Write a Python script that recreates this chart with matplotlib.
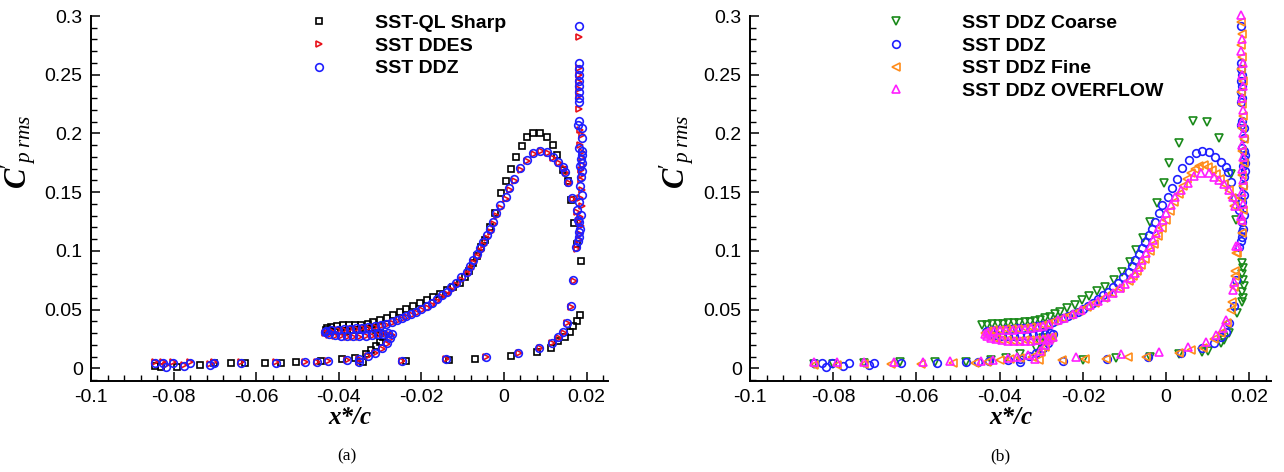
import numpy as np
import matplotlib
matplotlib.use("Agg")
import matplotlib.pyplot as plt
from matplotlib.ticker import MultipleLocator, FuncFormatter

plt.rcParams['font.family'] = ['Liberation Sans', 'DejaVu Sans']
plt.rcParams['mathtext.fontset'] = 'custom'
plt.rcParams['mathtext.rm'] = 'Liberation Serif'
plt.rcParams['mathtext.it'] = 'Liberation Serif:italic'
plt.rcParams['mathtext.bf'] = 'Liberation Serif:italic:bold'

# ---- data: (x*/c, Cp'rms) ----
sharp_xy = np.array([
    (-0.0846, 0.0020), (-0.0830, 0.0014), (-0.0792, 0.0014), (-0.0737, 0.0028), (-0.0701, 0.0043),
    (-0.0660, 0.0043), (-0.0628, 0.0043), (-0.0579, 0.0048), (-0.0539, 0.0048), (-0.0504, 0.0056),
    (-0.0442, 0.0062), (-0.0393, 0.0077), (-0.0361, 0.0085), (-0.0341, 0.0056),
    (-0.0333, 0.0122), (-0.0321, 0.0156), (-0.0310, 0.0190), (-0.0301, 0.0226), (-0.0294, 0.0265),
    (-0.0300, 0.0300), (-0.0310, 0.0330), (-0.0320, 0.0340), (-0.0335, 0.0335), (-0.0350, 0.0330),
    (-0.0365, 0.0325), (-0.0380, 0.0320), (-0.0395, 0.0318), (-0.0410, 0.0318), (-0.0422, 0.0320),
    (-0.0431, 0.0330), (-0.0428, 0.0345), (-0.0418, 0.0355), (-0.0405, 0.0362), (-0.0390, 0.0366),
    (-0.0375, 0.0368), (-0.0360, 0.0370), (-0.0345, 0.0373), (-0.0330, 0.0378), (-0.0317, 0.0391),
    (-0.0300, 0.0411), (-0.0284, 0.0431), (-0.0268, 0.0454), (-0.0252, 0.0477), (-0.0236, 0.0502),
    (-0.0220, 0.0530), (-0.0204, 0.0558), (-0.0187, 0.0581), (-0.0171, 0.0609), (-0.0155, 0.0632),
    (-0.0139, 0.0666), (-0.0123, 0.0694), (-0.0107, 0.0729), (-0.0095, 0.0775), (-0.0085, 0.0830),
    (-0.0075, 0.0895), (-0.0065, 0.0960), (-0.0055, 0.1030), (-0.0046, 0.1092), (-0.0034, 0.1200),
    (-0.0022, 0.1324), (-0.0006, 0.1494), (0.0005, 0.1594), (0.0016, 0.1694), (0.0029, 0.1796),
    (0.0043, 0.1892), (0.0057, 0.1966), (0.0071, 0.2000), (0.0087, 0.2005), (0.0104, 0.1966),
    (0.0118, 0.1900), (0.0129, 0.1815), (0.0144, 0.1688), (0.0156, 0.1594), (0.0162, 0.1432),
    (0.0170, 0.1239), (0.0178, 0.1058), (0.0186, 0.0913),
    (0.0184, 0.0454), (0.0176, 0.0405), (0.0168, 0.0363), (0.0160, 0.0312), (0.0148, 0.0269),
    (0.0132, 0.0232), (0.0113, 0.0170), (0.0079, 0.0136), (0.0016, 0.0105), (-0.0069, 0.0082),
    (-0.0133, 0.0073), (-0.0238, 0.0065),
])

ddz_xy = np.array([
    (-0.0846, 0.0043), (-0.0826, 0.0043), (-0.0818, 0.0015), (-0.0802, 0.0043), (-0.0776, 0.0020),
    (-0.0761, 0.0043), (-0.0713, 0.0030), (-0.0703, 0.0043), (-0.0636, 0.0043), (-0.0551, 0.0045),
    (-0.0482, 0.0051), (-0.0453, 0.0051), (-0.0426, 0.0060), (-0.0381, 0.0071), (-0.0351, 0.0079),
    (-0.0351, 0.0051), (-0.0329, 0.0105), (-0.0313, 0.0133), (-0.0296, 0.0170), (-0.0283, 0.0213),
    (-0.0276, 0.0255),
    (-0.0272, 0.0290), (-0.0280, 0.0300), (-0.0292, 0.0295), (-0.0305, 0.0288), (-0.0320, 0.0282),
    (-0.0335, 0.0278), (-0.0350, 0.0275), (-0.0365, 0.0274), (-0.0380, 0.0275), (-0.0395, 0.0278),
    (-0.0410, 0.0283), (-0.0424, 0.0292), (-0.0433, 0.0305), (-0.0430, 0.0318), (-0.0418, 0.0325),
    (-0.0403, 0.0330), (-0.0388, 0.0333), (-0.0373, 0.0336), (-0.0358, 0.0340), (-0.0343, 0.0345),
    (-0.0328, 0.0350), (-0.0313, 0.0357), (-0.0298, 0.0366), (-0.0285, 0.0378), (-0.0272, 0.0395),
    (-0.0260, 0.0411), (-0.0248, 0.0425), (-0.0236, 0.0445), (-0.0224, 0.0462), (-0.0212, 0.0482),
    (-0.0200, 0.0507), (-0.0187, 0.0530), (-0.0175, 0.0558), (-0.0163, 0.0590), (-0.0151, 0.0624),
    (-0.0139, 0.0652), (-0.0127, 0.0689), (-0.0115, 0.0729), (-0.0103, 0.0774), (-0.0090, 0.0822),
    (-0.0082, 0.0871), (-0.0074, 0.0922), (-0.0066, 0.0973), (-0.0058, 0.1021), (-0.0050, 0.1077),
    (-0.0042, 0.1134), (-0.0034, 0.1183), (-0.0026, 0.1248), (-0.0018, 0.1320), (-0.0010, 0.1390),
    (0.0004, 0.1460), (0.0013, 0.1532), (0.0025, 0.1608), (0.0039, 0.1702), (0.0055, 0.1773),
    (0.0071, 0.1830), (0.0087, 0.1852), (0.0104, 0.1838), (0.0118, 0.1801), (0.0132, 0.1758),
    (0.0144, 0.1716), (0.0148, 0.1673), (0.0156, 0.1588), (0.0166, 0.1452), (0.0176, 0.1347),
    (0.0180, 0.1262),
    (0.0181, 0.2916), (0.0181, 0.2596), (0.0181, 0.2550), (0.0182, 0.2500), (0.0181, 0.2450),
    (0.0182, 0.2400), (0.0181, 0.2350), (0.0182, 0.2300), (0.0181, 0.2270), (0.0183, 0.2110),
    (0.0179, 0.2070), (0.0188, 0.2050), (0.0188, 0.1960), (0.0183, 0.1880), (0.0188, 0.1850),
    (0.0190, 0.1820), (0.0186, 0.1780), (0.0190, 0.1750), (0.0184, 0.1720), (0.0189, 0.1680),
    (0.0186, 0.1630), (0.0185, 0.1550), (0.0188, 0.1480), (0.0183, 0.1420), (0.0187, 0.1305),
    (0.0183, 0.1245), (0.0185, 0.1190), (0.0183, 0.1160), (0.0183, 0.1115), (0.0180, 0.1080),
    (0.0175, 0.1035), (0.0168, 0.0751), (0.0162, 0.0533), (0.0152, 0.0388), (0.0144, 0.0306),
    (0.0132, 0.0264), (0.0116, 0.0218), (0.0086, 0.0175), (0.0035, 0.0133), (-0.0044, 0.0099),
    (-0.0141, 0.0079), (-0.0248, 0.0062),
])

ddes_xy = np.array([
    (-0.0846, 0.0050), (-0.0826, 0.0050), (-0.0818, 0.0025), (-0.0802, 0.0050), (-0.0776, 0.0028),
    (-0.0761, 0.0050), (-0.0713, 0.0038), (-0.0703, 0.0050), (-0.0636, 0.0050), (-0.0551, 0.0050),
    (-0.0482, 0.0055), (-0.0453, 0.0055), (-0.0426, 0.0062), (-0.0381, 0.0072), (-0.0351, 0.0080),
    (-0.0351, 0.0053), (-0.0329, 0.0102), (-0.0313, 0.0130), (-0.0296, 0.0166), (-0.0283, 0.0208),
    (-0.0276, 0.0250),
    (-0.0272, 0.0285), (-0.0280, 0.0295), (-0.0292, 0.0290), (-0.0305, 0.0283), (-0.0320, 0.0277),
    (-0.0335, 0.0273), (-0.0350, 0.0270), (-0.0365, 0.0269), (-0.0380, 0.0270), (-0.0395, 0.0273),
    (-0.0410, 0.0278), (-0.0424, 0.0287), (-0.0433, 0.0300), (-0.0430, 0.0313), (-0.0418, 0.0320),
    (-0.0403, 0.0325), (-0.0388, 0.0328), (-0.0373, 0.0331), (-0.0358, 0.0335), (-0.0343, 0.0340),
    (-0.0328, 0.0345), (-0.0313, 0.0352), (-0.0298, 0.0360), (-0.0285, 0.0372), (-0.0272, 0.0388),
    (-0.0258, 0.0402), (-0.0246, 0.0416), (-0.0234, 0.0434), (-0.0222, 0.0451), (-0.0210, 0.0470),
    (-0.0198, 0.0493), (-0.0185, 0.0516), (-0.0173, 0.0543), (-0.0161, 0.0573), (-0.0149, 0.0605),
    (-0.0137, 0.0634), (-0.0125, 0.0670), (-0.0113, 0.0708), (-0.0101, 0.0752), (-0.0088, 0.0800),
    (-0.0080, 0.0848), (-0.0072, 0.0898), (-0.0064, 0.0950), (-0.0056, 0.0998), (-0.0048, 0.1054),
    (-0.0040, 0.1110), (-0.0032, 0.1160), (-0.0024, 0.1225), (-0.0016, 0.1298), (-0.0008, 0.1368),
    (0.0006, 0.1440), (0.0015, 0.1515), (0.0027, 0.1594), (0.0041, 0.1690), (0.0057, 0.1765),
    (0.0073, 0.1824), (0.0089, 0.1848), (0.0106, 0.1833), (0.0120, 0.1795), (0.0134, 0.1750),
    (0.0146, 0.1706), (0.0150, 0.1662), (0.0158, 0.1576), (0.0168, 0.1440), (0.0178, 0.1335),
    (0.0182, 0.1250),
    (0.0183, 0.2820), (0.0182, 0.2560), (0.0183, 0.2500), (0.0182, 0.2440), (0.0183, 0.2380),
    (0.0182, 0.2320), (0.0183, 0.2210), (0.0184, 0.2030), (0.0189, 0.1990), (0.0185, 0.1900),
    (0.0190, 0.1840), (0.0188, 0.1790), (0.0191, 0.1730), (0.0186, 0.1690), (0.0190, 0.1650),
    (0.0187, 0.1600), (0.0189, 0.1520), (0.0185, 0.1450), (0.0189, 0.1380), (0.0185, 0.1290),
    (0.0186, 0.1210), (0.0184, 0.1140), (0.0182, 0.1095),
    (0.0176, 0.1020), (0.0169, 0.0740), (0.0163, 0.0525), (0.0153, 0.0382), (0.0145, 0.0300),
    (0.0133, 0.0258), (0.0117, 0.0212), (0.0087, 0.0170), (0.0036, 0.0130), (-0.0043, 0.0097),
    (-0.0140, 0.0078), (-0.0247, 0.0062),
])

coarse_xy = np.array([
    (-0.0846, 0.0040), (-0.0800, 0.0040), (-0.0725, 0.0045), (-0.0640, 0.0050), (-0.0555, 0.0050),
    (-0.0480, 0.0055), (-0.0420, 0.0070), (-0.0385, 0.0090), (-0.0352, 0.0122), (-0.0312, 0.0170),
    (-0.0304, 0.0213), (-0.0296, 0.0255), (-0.0290, 0.0300),
    (-0.0442, 0.0365), (-0.0430, 0.0372), (-0.0418, 0.0376), (-0.0405, 0.0379), (-0.0392, 0.0381),
    (-0.0379, 0.0383), (-0.0366, 0.0385), (-0.0353, 0.0388), (-0.0340, 0.0391), (-0.0327, 0.0395),
    (-0.0314, 0.0402), (-0.0302, 0.0412),
    (-0.0292, 0.0426), (-0.0280, 0.0439), (-0.0268, 0.0460), (-0.0254, 0.0482), (-0.0239, 0.0510),
    (-0.0220, 0.0539), (-0.0202, 0.0581), (-0.0186, 0.0615), (-0.0167, 0.0660), (-0.0146, 0.0694),
    (-0.0126, 0.0751), (-0.0107, 0.0822), (-0.0088, 0.0904), (-0.0073, 0.1004), (-0.0056, 0.1106),
    (-0.0040, 0.1248), (-0.0022, 0.1404), (-0.0006, 0.1580), (0.0008, 0.1750), (0.0032, 0.1920),
    (0.0064, 0.2107), (0.0097, 0.2097), (0.0126, 0.1965), (0.0156, 0.1657), (0.0168, 0.1260),
    (0.0183, 0.0900), (0.0185, 0.0850), (0.0182, 0.0800), (0.0184, 0.0750), (0.0186, 0.0700),
    (0.0183, 0.0650), (0.0184, 0.0596), (0.0182, 0.0567), (0.0170, 0.0468), (0.0152, 0.0298),
    (0.0140, 0.0241), (0.0132, 0.0213), (0.0100, 0.0150), (0.0086, 0.0141), (0.0030, 0.0120),
    (-0.0040, 0.0100), (-0.0120, 0.0085), (-0.0200, 0.0070),
])

fine_xy = np.array([
    (-0.0846, 0.0030), (-0.0790, 0.0030), (-0.0725, 0.0035), (-0.0660, 0.0035), (-0.0590, 0.0040),
    (-0.0512, 0.0043), (-0.0460, 0.0043), (-0.0430, 0.0055), (-0.0400, 0.0071), (-0.0375, 0.0080),
    (-0.0350, 0.0090), (-0.0322, 0.0099), (-0.0306, 0.0071),
    (-0.0300, 0.0141), (-0.0290, 0.0184), (-0.0280, 0.0255),
    (-0.0275, 0.0270), (-0.0285, 0.0262), (-0.0298, 0.0252), (-0.0312, 0.0245), (-0.0326, 0.0240),
    (-0.0340, 0.0237), (-0.0354, 0.0235), (-0.0368, 0.0236), (-0.0382, 0.0239), (-0.0396, 0.0244),
    (-0.0410, 0.0252), (-0.0423, 0.0265), (-0.0433, 0.0282), (-0.0436, 0.0300), (-0.0428, 0.0315),
    (-0.0415, 0.0323), (-0.0400, 0.0328), (-0.0385, 0.0331), (-0.0370, 0.0334), (-0.0355, 0.0338),
    (-0.0340, 0.0342), (-0.0325, 0.0348), (-0.0310, 0.0356), (-0.0296, 0.0366), (-0.0283, 0.0380),
    (-0.0270, 0.0400), (-0.0250, 0.0425), (-0.0230, 0.0452), (-0.0210, 0.0485), (-0.0190, 0.0522),
    (-0.0170, 0.0560), (-0.0150, 0.0598), (-0.0130, 0.0640), (-0.0110, 0.0688), (-0.0090, 0.0745),
    (-0.0080, 0.0782), (-0.0070, 0.0830), (-0.0060, 0.0880), (-0.0050, 0.0935), (-0.0040, 0.0995),
    (-0.0030, 0.1060), (-0.0020, 0.1125), (-0.0010, 0.1195), (0.0000, 0.1265), (0.0010, 0.1340),
    (0.0020, 0.1415), (0.0030, 0.1485), (0.0040, 0.1550), (0.0050, 0.1610), (0.0060, 0.1660),
    (0.0070, 0.1700), (0.0080, 0.1725), (0.0090, 0.1730), (0.0100, 0.1715), (0.0110, 0.1690),
    (0.0120, 0.1655), (0.0130, 0.1615), (0.0140, 0.1570), (0.0150, 0.1515), (0.0158, 0.1450),
    (0.0163, 0.1380), (0.0168, 0.0979), (0.0166, 0.0830), (0.0164, 0.0690),
    (0.0180, 0.2950), (0.0182, 0.2850), (0.0180, 0.2750), (0.0183, 0.2650), (0.0181, 0.2550),
    (0.0184, 0.2450), (0.0181, 0.2350), (0.0183, 0.2250), (0.0185, 0.2150), (0.0182, 0.2050),
    (0.0186, 0.1950), (0.0183, 0.1850), (0.0186, 0.1750), (0.0182, 0.1650), (0.0185, 0.1550),
    (0.0181, 0.1450), (0.0184, 0.1350), (0.0180, 0.1250), (0.0182, 0.1150), (0.0171, 0.0983),
    (0.0166, 0.0790), (0.0158, 0.0567), (0.0155, 0.0496), (0.0146, 0.0390), (0.0132, 0.0298),
    (0.0114, 0.0250), (0.0088, 0.0170), (0.0060, 0.0156), (0.0032, 0.0133), (-0.0048, 0.0099),
    (-0.0092, 0.0094), (-0.0144, 0.0077), (-0.0196, 0.0077), (-0.0250, 0.0071),
])

overflow_xy = np.array([
    (-0.0846, 0.0050), (-0.0790, 0.0050), (-0.0725, 0.0055), (-0.0655, 0.0055), (-0.0585, 0.0058),
    (-0.0520, 0.0062), (-0.0444, 0.0062), (-0.0416, 0.0071), (-0.0380, 0.0085), (-0.0358, 0.0099),
    (-0.0332, 0.0113), (-0.0316, 0.0077),
    (-0.0302, 0.0150), (-0.0292, 0.0195), (-0.0282, 0.0245),
    (-0.0273, 0.0265), (-0.0283, 0.0257), (-0.0296, 0.0247), (-0.0310, 0.0240), (-0.0324, 0.0235),
    (-0.0338, 0.0232), (-0.0352, 0.0230), (-0.0366, 0.0231), (-0.0380, 0.0234), (-0.0394, 0.0239),
    (-0.0408, 0.0247), (-0.0421, 0.0260), (-0.0431, 0.0277), (-0.0435, 0.0295), (-0.0427, 0.0310),
    (-0.0414, 0.0318), (-0.0399, 0.0323), (-0.0384, 0.0326), (-0.0369, 0.0329), (-0.0354, 0.0333),
    (-0.0339, 0.0337), (-0.0324, 0.0343), (-0.0309, 0.0351), (-0.0295, 0.0361), (-0.0282, 0.0378),
    (-0.0260, 0.0411), (-0.0245, 0.0430), (-0.0224, 0.0462), (-0.0204, 0.0500), (-0.0184, 0.0535),
    (-0.0164, 0.0570), (-0.0144, 0.0610), (-0.0128, 0.0645), (-0.0112, 0.0681), (-0.0098, 0.0722),
    (-0.0084, 0.0766), (-0.0075, 0.0815), (-0.0066, 0.0865), (-0.0057, 0.0920), (-0.0048, 0.0979),
    (-0.0040, 0.1035), (-0.0032, 0.1092), (-0.0024, 0.1148), (-0.0016, 0.1205), (-0.0008, 0.1260),
    (0.0000, 0.1319), (0.0011, 0.1387), (0.0022, 0.1455), (0.0036, 0.1517), (0.0052, 0.1580),
    (0.0068, 0.1637), (0.0084, 0.1665), (0.0104, 0.1660), (0.0116, 0.1630), (0.0128, 0.1603),
    (0.0140, 0.1569), (0.0152, 0.1517), (0.0160, 0.1460), (0.0166, 0.1381), (0.0169, 0.1043),
    (0.0164, 0.0737),
    (0.0180, 0.3007), (0.0183, 0.2800), (0.0181, 0.2700), (0.0184, 0.2600), (0.0182, 0.2500),
    (0.0184, 0.2400), (0.0182, 0.2300), (0.0185, 0.2200), (0.0183, 0.2100), (0.0185, 0.2000),
    (0.0182, 0.1900), (0.0185, 0.1800), (0.0183, 0.1700), (0.0185, 0.1600), (0.0182, 0.1500),
    (0.0184, 0.1400), (0.0181, 0.1300), (0.0183, 0.1260), (0.0172, 0.1040),
    (0.0160, 0.0666), (0.0144, 0.0411), (0.0136, 0.0340), (0.0120, 0.0283), (0.0096, 0.0226),
    (0.0052, 0.0184), (-0.0016, 0.0141), (-0.0108, 0.0122), (-0.0216, 0.0094),
])

x_ticks = [-0.1, -0.08, -0.06, -0.04, -0.02, 0, 0.02]
y_ticks = [0, 0.05, 0.1, 0.15, 0.2, 0.25, 0.3]

fig = plt.figure(figsize=(12.84, 4.72), dpi=100)
ax1 = fig.add_axes([0.0709, 0.1928, 0.4026, 0.7733])
ax2 = fig.add_axes([0.5841, 0.1928, 0.4058, 0.7733])

def style(ax):
    ax.set_xlim(-0.1, 0.0252)
    ax.set_ylim(-0.0108, 0.3)
    ax.set_xticks(x_ticks)
    ax.set_yticks(y_ticks)
    ax.xaxis.set_minor_locator(MultipleLocator(0.004))
    ax.yaxis.set_minor_locator(MultipleLocator(0.01))
    fmt = FuncFormatter(lambda v, p: "0" if abs(v) < 1e-12 else "%g" % v)
    ax.xaxis.set_major_formatter(fmt)
    ax.yaxis.set_major_formatter(fmt)
    ax.spines['top'].set_visible(False)
    ax.spines['right'].set_visible(False)
    ax.spines['left'].set_linewidth(1.4)
    ax.spines['bottom'].set_linewidth(1.4)
    ax.tick_params(which='major', direction='in', length=6.5, width=1.1, labelsize=14, pad=6)
    ax.tick_params(which='minor', direction='in', length=4, width=1.0)
    ax.set_xlabel("x*/c", family='Liberation Serif', style='italic', weight='bold', fontsize=18, labelpad=0)
    ax.set_ylabel(r"$\mathbf{C}'_{p\;rms}$", fontsize=22)
    ax.yaxis.set_label_coords(-0.103, 0.627)

def pts(ax, xy, marker, color, label, ms=5):
    ax.plot(xy[:, 0], xy[:, 1], ls='none', marker=marker, mfc='none', mec=color,
            ms=ms, mew=1.2, label=label, clip_on=False)

pts(ax1, sharp_xy, 's', 'black', 'SST-QL Sharp', 4.5)
pts(ax1, ddes_xy, '>', '#e8111a', 'SST DDES', 4.8)
pts(ax1, ddz_xy, 'o', '#1f1fff', 'SST DDZ', 5.5)

pts(ax2, coarse_xy, 'v', '#1a8a1a', 'SST DDZ Coarse', 5.2)
pts(ax2, ddz_xy, 'o', '#1f1fff', 'SST DDZ', 5.5)
pts(ax2, fine_xy, '<', '#ff8c1a', 'SST DDZ Fine', 5.2)
pts(ax2, overflow_xy, '^', '#ff1fff', 'SST DDZ OVERFLOW', 5.2)

for ax in (ax1, ax2):
    style(ax)

leg_kw = dict(loc='upper left', frameon=False, borderpad=0, handlelength=1.0,
              labelspacing=0.27, prop={'weight': 'bold', 'size': 14})
ax1.legend(bbox_to_anchor=(0.403, 1.032), handletextpad=2.38, **leg_kw)
ax2.legend(bbox_to_anchor=(0.243, 1.032), handletextpad=2.9, **leg_kw)

fig.text(0.2702, 0.025, "(a)", family='Liberation Serif', fontsize=12.5, ha='center')
fig.text(0.779, 0.025, "(b)", family='Liberation Serif', fontsize=12.5, ha='center')

fig.savefig("out.png", dpi=100)
